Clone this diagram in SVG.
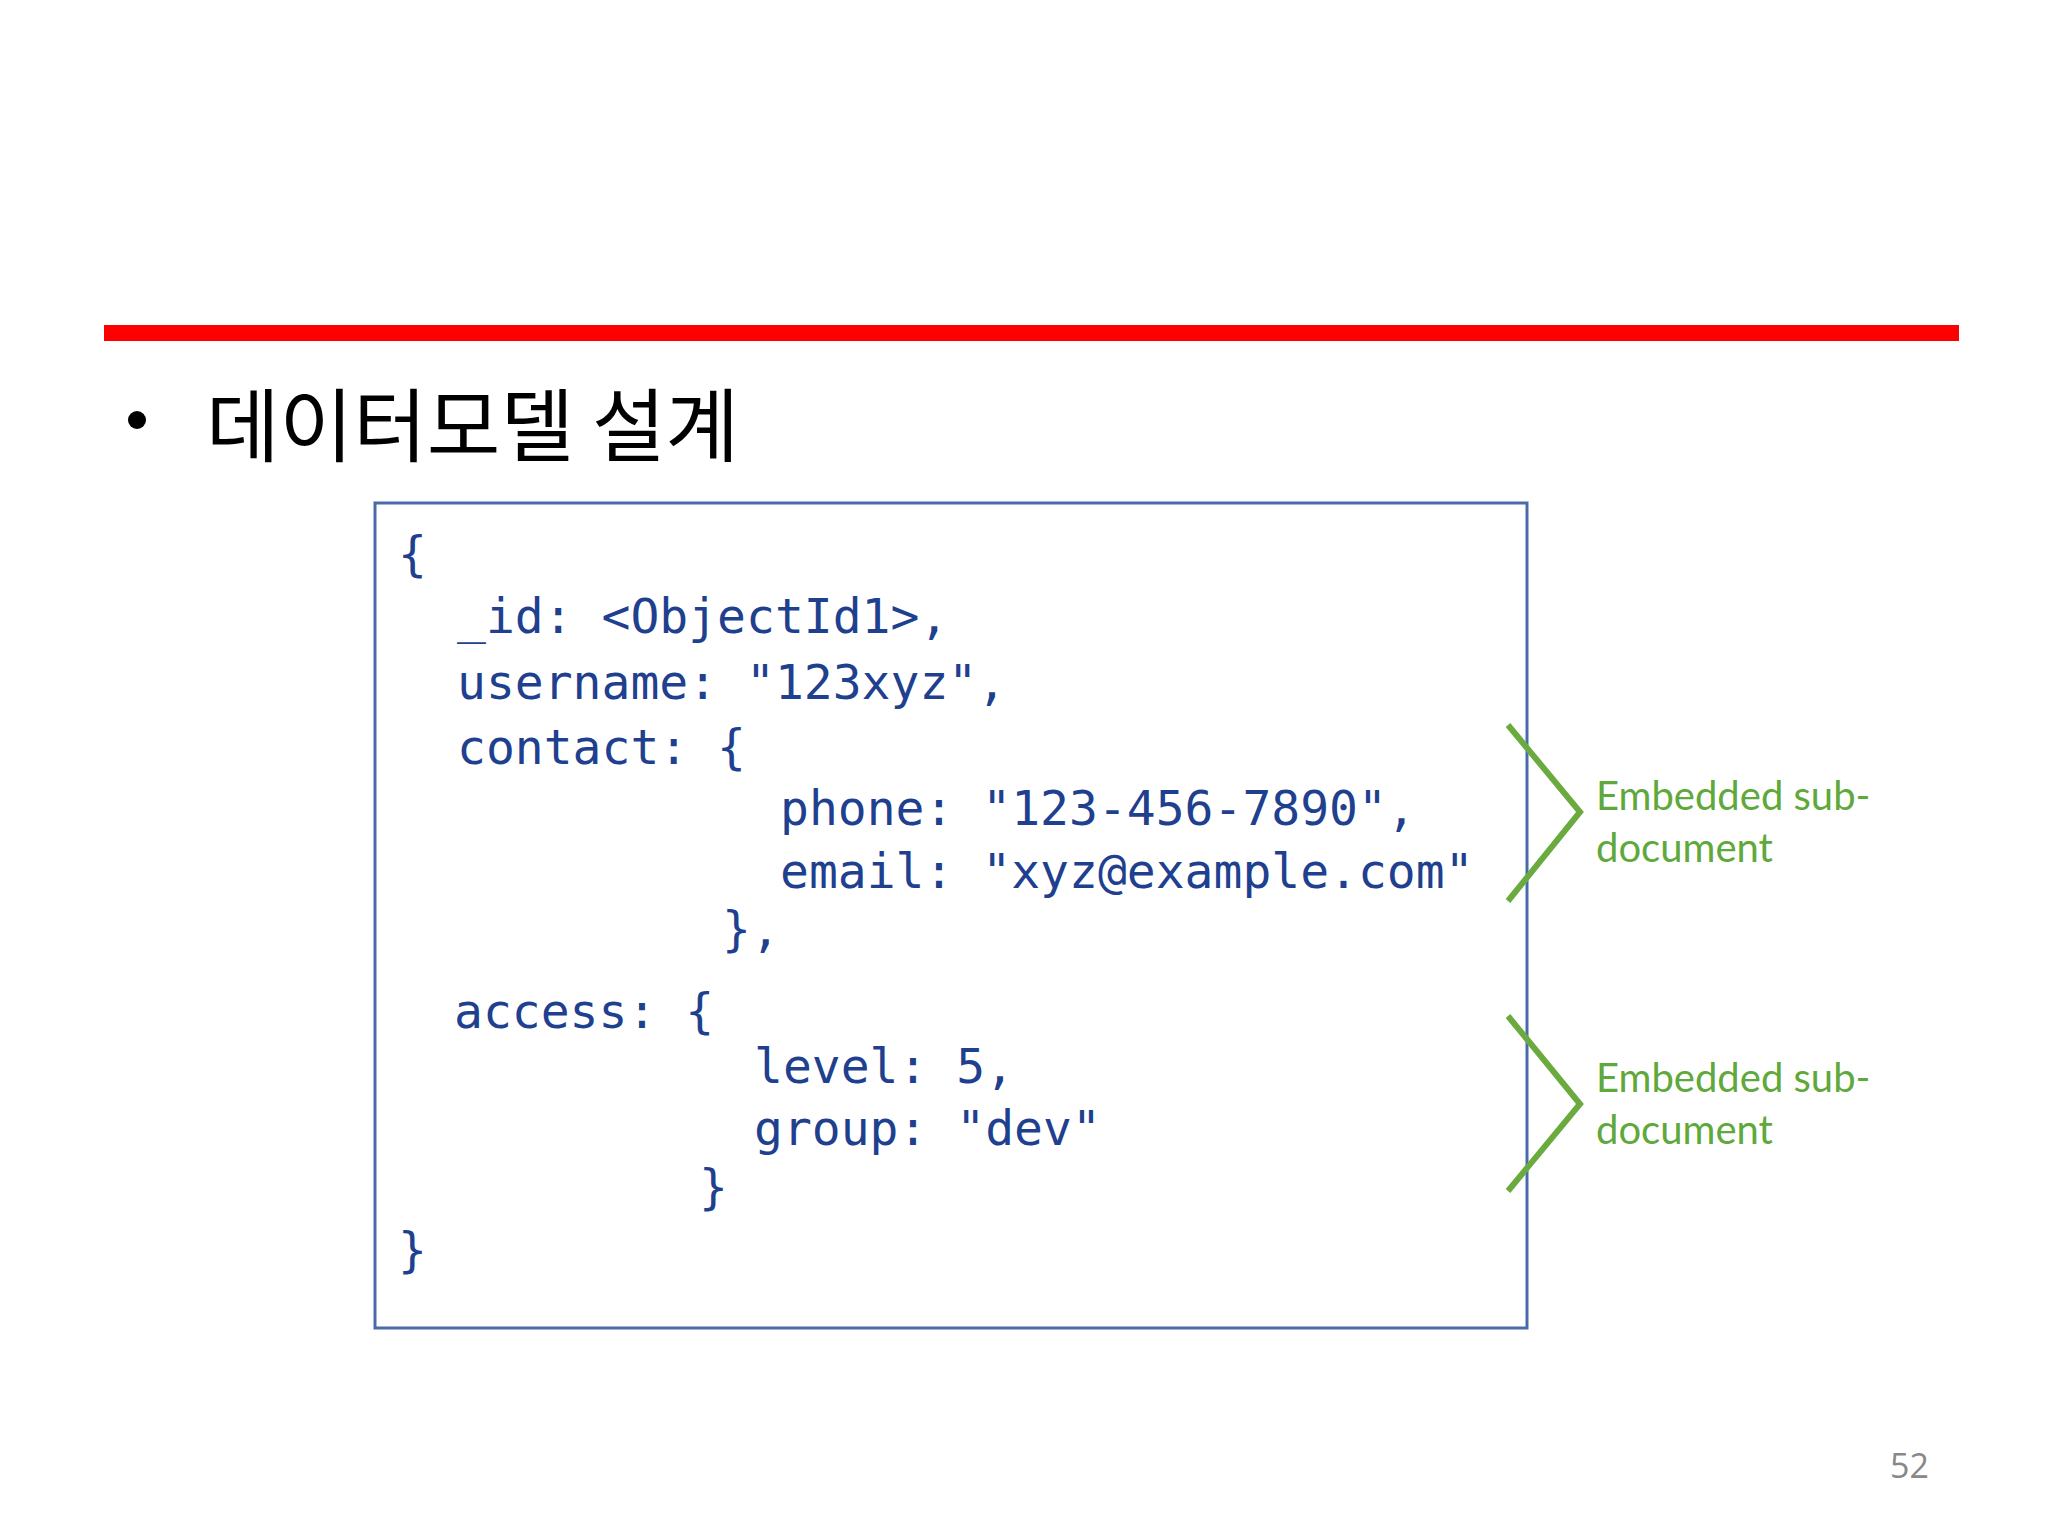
<svg xmlns="http://www.w3.org/2000/svg" width="2048" height="1536" viewBox="0 0 2048 1536">
<style>
.code{font-family:"DejaVu Sans Mono","Liberation Mono",monospace;font-size:48px;fill:#1f3f8f}
.note{font-family:Lato,"Open Sans",sans-serif;font-size:40px;fill:#5fa83c}
.brace{fill:none;stroke:#6aaa3e;stroke-width:6}
</style>
<rect width="2048" height="1536" fill="#fff"/>
<rect x="104" y="325" width="1855" height="16" fill="#ff0000"/>
<g id="title">
<circle cx="137" cy="420" r="9" fill="#000"/>
<text x="206" y="455" font-family="'Noto Sans CJK KR',sans-serif" font-size="80" fill="#000">데이터모델 설계</text>
</g>
<g id="doc">
<rect x="375" y="503" width="1152" height="825" fill="#fff" stroke="#4a6aab" stroke-width="3"/>
<text class="code" x="398" y="571">{</text>
<text class="code" x="457" y="633">_id: &lt;ObjectId1&gt;,</text>
<text class="code" x="457" y="699">username: "123xyz",</text>
<text class="code" x="457" y="764">contact: {</text>
<text class="code" x="780" y="825">phone: "123-456-7890",</text>
<text class="code" x="780" y="888">email: "xyz@example.com"</text>
<text class="code" x="722" y="946">},</text>
<text class="code" x="454" y="1028">access: {</text>
<text class="code" x="754" y="1083">level: 5,</text>
<text class="code" x="754" y="1145">group: "dev"</text>
<text class="code" x="699" y="1204">}</text>
<text class="code" x="398" y="1267">}</text>
</g>
<g id="connectors">
<polyline class="brace" points="1508,725 1580,812 1508,901"/>
<polyline class="brace" points="1508,1016 1580,1104 1508,1191"/>
</g>
<g id="note1">
<text class="note" x="1596" y="810">Embedded sub-</text>
<text class="note" x="1596" y="862">document</text>
</g>
<g id="note2">
<text class="note" x="1596" y="1092">Embedded sub-</text>
<text class="note" x="1596" y="1144">document</text>
</g>
<text x="1890" y="1478" font-family="'Open Sans',sans-serif" font-size="34" fill="#888">52</text>
</svg>
